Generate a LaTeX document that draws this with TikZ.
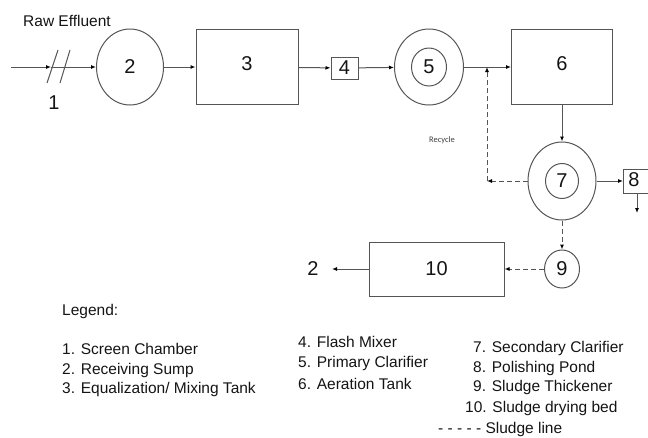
\documentclass[tikz,border=0pt]{standalone}
\usepackage{fontspec}
\setmainfont{Liberation Sans}
\newfontfamily\notefont{Carlito}
\usetikzlibrary{shapes.geometric,arrows.meta}

\definecolor{linegray}{HTML}{555555}
\definecolor{textdark}{HTML}{141414}

\tikzset{
  unit/.style={draw=linegray, line width=1pt, text=textdark, inner sep=0pt,
    font=\fontsize{20}{22}\selectfont},
  tank/.style={unit, ellipse},
  basin/.style={unit, rectangle},
  numlabel/.style={inner sep=0pt, text=textdark, font=\fontsize{20}{22}\selectfont},
  flow/.style={draw=linegray, line width=1pt, -{Latex[length=5pt,width=4pt,black]}},
  sludge/.style={flow, dash pattern=on 5pt off 3pt},
  legtext/.style={anchor=west, inner sep=0pt, text=textdark, text height=11pt, text depth=3pt,
    font=\fontsize{15.5}{18}\selectfont},
}

\begin{document}
\begin{tikzpicture}[x=1pt,y=-1pt]
  \useasboundingbox (0,0) rectangle (648,437);

  % Inlet and screen chamber
  \node[legtext] (raw) at (23,22) {Raw Effluent};
  \coordinate (feed) at (11,67);
  \coordinate (screen) at (51,67);
  \draw[flow] (feed) -- (screen);
  \draw[linegray, line width=1pt] (47,83) -- (58,50) (60,83) -- (70,50);
  \node[numlabel] (one) at (54,103) {1};

  % Units on the main line
  \node[tank, minimum width=67pt, minimum height=76pt] (sump) at (130,67) {2};
  \node[basin, minimum width=102pt, minimum height=75pt, text depth=7pt] (eq) at (247,67) {3};
  \node[basin, minimum width=27pt, minimum height=22pt] (mixer) at (344.5,68) {4};
  \node[tank, minimum width=69pt, minimum height=76pt] (primout) at (429,67) {};
  \node[tank, minimum width=35pt, minimum height=38pt] (prim) at (429,67) {5};
  \node[basin, minimum width=101pt, minimum height=75pt, text depth=7pt] (aer) at (562,67) {6};

  % Secondary treatment and sludge units
  \node[tank, minimum width=68pt, minimum height=78pt] (secout) at (562,181) {};
  \node[tank, minimum width=33pt, minimum height=35pt] (sec) at (562,181) {7};
  \node[basin, minimum width=40pt, minimum height=24pt, anchor=west] (pond) at (623,181) {};
  \node[numlabel] (eight) at (634,180) {8};
  \coordinate (pondout) at (637,213);
  \node[tank, minimum width=35pt, minimum height=38pt] (thick) at (562,269) {9};
  \node[basin, minimum width=135pt, minimum height=54pt] (bed) at (436.5,269) {10};
  \coordinate (sink) at (332,269);
  \node[numlabel] (outlet) at (313,269) {2};

  % Flow connectors
  \draw[flow] (screen) -- (sump);
  \draw[flow] (sump) -- (eq);
  \draw[flow] (eq) -- (mixer);
  \draw[flow] (mixer) -- (primout);
  \draw[flow] (primout) -- (aer);
  \draw[flow] (aer) -- (secout);
  \draw[flow] (secout) -- (pond);
  \draw[flow] (pond.south -| pondout) -- (pondout);
  \draw[flow] (bed) -- (sink);

  % Sludge and recycle lines
  \coordinate (rbend) at (487,181);
  \coordinate (rtop) at (487,67);
  \draw[sludge] (secout) -- (rbend);
  \draw[sludge] (rbend) -- (rtop);
  \draw[sludge] (secout) -- (thick);
  \draw[sludge] (thick) -- (bed);
  \node[inner sep=0pt, text=black!75, font=\notefont\fontsize{8.5}{10}\selectfont] (recycle) at (442,140) {Recycle};

  % Legend
  \node[legtext] (legend) at (62,311) {Legend:};
  \node[legtext] (leg1) at (62,350) {1. Screen Chamber};
  \node[legtext] (leg2) at (62,370) {2. Receiving Sump};
  \node[legtext] (leg3) at (62,389) {3. Equalization/ Mixing Tank};
  \node[legtext] (leg4) at (298,343) {4. Flash Mixer};
  \node[legtext] (leg5) at (298,363) {5. Primary Clarifier};
  \node[legtext] (leg6) at (298,385) {6. Aeration Tank};
  \node[legtext] (leg7) at (473,348) {7. Secondary Clarifier};
  \node[legtext] (leg8) at (473,368) {8. Polishing Pond};
  \node[legtext] (leg9) at (473,387) {9. Sludge Thickener};
  \node[legtext] (leg10) at (465,408) {10. Sludge drying bed};
  \node[legtext] (legsludge) at (438,429) {- - - - - Sludge line};

\end{tikzpicture}
\end{document}
